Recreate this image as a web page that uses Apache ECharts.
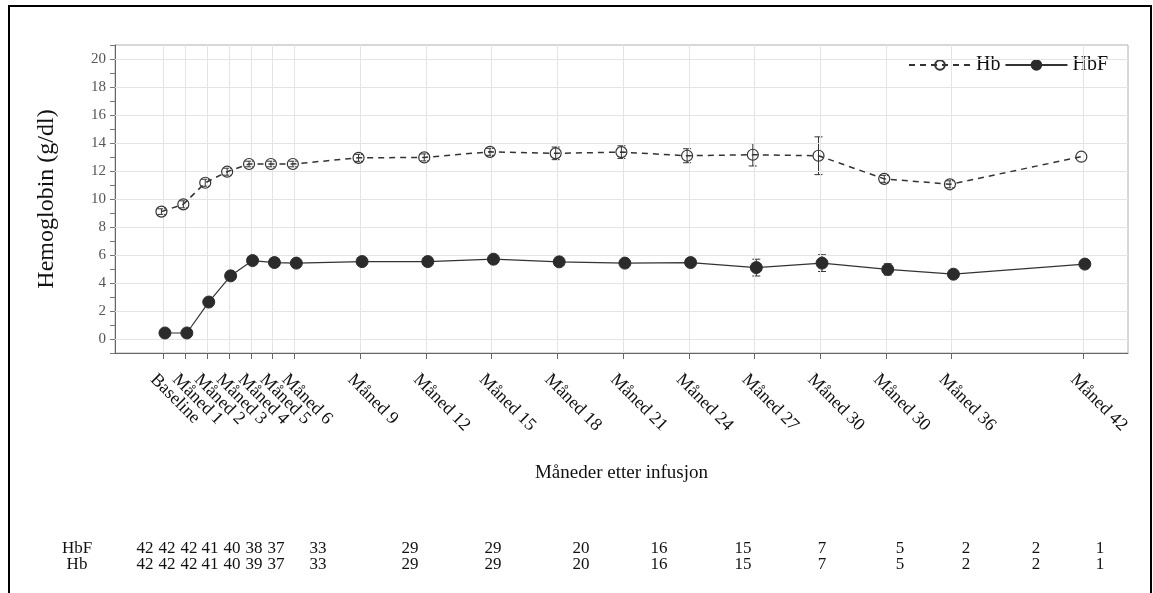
<!DOCTYPE html>
<html>
<head>
<meta charset="utf-8">
<script src="https://cdn.jsdelivr.net/npm/echarts@6/dist/echarts.min.js"></script>
<style>
html,body{margin:0;padding:0;background:#fff;}
#chart{width:1153px;height:593px;}
</style>
</head>
<body>
<div id="chart"></div>
<script>
// ---- data ----
const categories = ['Baseline','Måned 1','Måned 2','Måned 3','Måned 4','Måned 5','Måned 6','Måned 9','Måned 12','Måned 15','Måned 18','Måned 21','Måned 24','Måned 27','Måned 30','Måned 30','Måned 36','Måned 42'];
const months = [0,1,2,3,4,5,6,9,12,15,18,21,24,27,30,33,36,42];
const hbMean = [9.1,9.62,11.16,11.95,12.5,12.5,12.5,12.94,12.97,13.37,13.26,13.35,13.09,13.16,13.09,11.44,11.05,13.02];
const hbErr = [0.2,0.25,0.25,0.25,0.2,0.2,0.2,0.25,0.25,0.25,0.45,0.45,0.5,0.8,1.35,0.25,0.25,0];
const hbfMean = [0.43,0.43,2.64,4.51,5.6,5.46,5.42,5.53,5.53,5.7,5.51,5.42,5.46,5.1,5.42,4.97,4.63,5.35];
const hbfErr = [0.15,0.15,0.2,0.2,0.25,0.25,0.25,0.2,0.2,0.2,0.2,0.2,0.25,0.6,0.6,0.4,0.2,0];
const nHbF = [42,42,42,41,40,38,37,33,29,29,20,16,15,7,5,2,2,1];
const nHb = [42,42,42,41,40,39,37,33,29,29,20,16,15,7,5,2,2,1];
const yTicks = [0,2,4,6,8,10,12,14,16,18,20];
const seriesNames = ['Hb','HbF'];
const tableRowLabels = ['HbF','Hb'];
const xTitle = 'Måneder etter infusjon';
const yTitle = 'Hemoglobin (g/dl)';

// ---- layout (not data) ----
const FONT = "'Liberation Serif','Times New Roman',serif";
const Y_MIN = -1, Y_MAX = 21;
const tableColX = [145,167,189,210,232,254,276,318,410,493,581,659,743,822,900,966,1036,1100];
const tableRowY = [549,565];
const tableLabelX = 77;
const dodge = 0.08;
const labelDX = -10, labelDY = 24;

const chart = echarts.init(document.getElementById('chart'), null, {renderer:'canvas'});

function errRender(params, api){
  const x = api.value(0), lo = api.value(1), hi = api.value(2);
  if (hi - lo <= 0) return null;
  const p1 = api.coord([x, lo]), p2 = api.coord([x, hi]);
  const cw = 4;
  const st = {stroke:'#333', lineWidth:1};
  return {type:'group', children:[
    {type:'line', shape:{x1:p1[0],y1:p1[1],x2:p2[0],y2:p2[1]}, style:st},
    {type:'line', shape:{x1:p1[0]-cw,y1:p1[1],x2:p1[0]+cw,y2:p1[1]}, style:st},
    {type:'line', shape:{x1:p2[0]-cw,y1:p2[1],x2:p2[0]+cw,y2:p2[1]}, style:st}
  ]};
}

function xLabelRender(params, api){
  const p = api.coord([api.value(0), Y_MIN]);
  const idx = api.value(2);
  return {
    type:'text', x:p[0]+labelDX, y:p[1]+labelDY, rotation:-Math.PI/4,
    style:{text:categories[idx], font:'18px '+FONT, fill:'#111', align:'left', verticalAlign:'middle'}
  };
}

const graphics = [
  {type:'rect', shape:{x:9, y:6, width:1142, height:600}, style:{fill:'none', stroke:'#000', lineWidth:2}, z:-10}
];
tableRowLabels.forEach((lab, r) => {
  graphics.push({type:'text', x:tableLabelX, y:tableRowY[r], style:{text:lab, font:'17px '+FONT, fill:'#111', textAlign:'center', textVerticalAlign:'middle'}});
  const arr = r === 0 ? nHbF : nHb;
  arr.forEach((n, i) => {
    graphics.push({type:'text', x:tableColX[i], y:tableRowY[r], style:{text:String(n), font:'17px '+FONT, fill:'#111', textAlign:'center', textVerticalAlign:'middle'}});
  });
});

const option = {
  backgroundColor:'#fff',
  animation:false,
  textStyle:{fontFamily:FONT},
  grid:{left:115, right:25, top:45, bottom:240, show:true, borderColor:'#b0b0b0', borderWidth:1, backgroundColor:'transparent'},
  legend:{
    data:seriesNames, right:40, top:50, itemWidth:62, itemHeight:12, itemGap:4,
    textStyle:{fontFamily:FONT, fontSize:20, color:'#111'}
  },
  xAxis:{
    type:'value', min:-2.2, max:44.05,
    name:xTitle, nameLocation:'middle', nameGap:111,
    nameTextStyle:{fontFamily:FONT, fontSize:19, color:'#111'},
    axisLine:{show:true, onZero:false, lineStyle:{color:'#666', width:1}},
    axisTick:{show:true, customValues:months, length:6, lineStyle:{color:'#666'}},
    axisLabel:{show:false},
    splitLine:{show:false}
  },
  yAxis:{
    type:'value', min:Y_MIN, max:Y_MAX, interval:1,
    name:yTitle, nameLocation:'middle', nameGap:56, nameRotate:90,
    nameTextStyle:{fontFamily:FONT, fontSize:24, color:'#111'},
    axisLine:{show:true, onZero:false, lineStyle:{color:'#666', width:1}},
    axisTick:{show:true, length:5, lineStyle:{color:'#777'}},
    axisLabel:{
      fontFamily:FONT, fontSize:15, color:'#555', margin:9,
      formatter:(v)=> yTicks.indexOf(v) >= 0 ? String(v) : ''
    },
    splitLine:{show:false}
  },
  series:[
    {
      type:'line', name:'_grid', data:[], silent:true, z:0,
      markLine:{
        silent:true, symbol:['none','none'], label:{show:false}, animation:false,
        lineStyle:{color:'#e4e4e4', type:'solid', width:1},
        emphasis:{disabled:true},
        data: yTicks.map(v=>({yAxis:v})).concat(months.map(m=>({xAxis:m})))
      }
    },
    {
      type:'custom', name:'xLabels', renderItem:xLabelRender, silent:true, clip:false, z:2,
      data: months.map((m,i)=>[m, Y_MIN, i]),
      encode:{x:0, y:1}
    },
    {
      type:'custom', name:'HbErr', renderItem:errRender, z:3, silent:true,
      data: months.map((m,i)=>[m-dodge, hbMean[i]-hbErr[i], hbMean[i]+hbErr[i]]),
      encode:{x:0, y:[1,2]}
    },
    {
      type:'custom', name:'HbFErr', renderItem:errRender, z:3, silent:true,
      data: months.map((m,i)=>[m+dodge, hbfMean[i]-hbfErr[i], hbfMean[i]+hbfErr[i]]),
      encode:{x:0, y:[1,2]}
    },
    {
      type:'line', name:seriesNames[0], z:5,
      data: months.map((m,i)=>[m-dodge, hbMean[i]]),
      symbol:'circle', symbolSize:11, showAllSymbol:true,
      itemStyle:{color:'rgba(255,255,255,0)', borderColor:'#333', borderWidth:1.2},
      lineStyle:{color:'#333', width:1.5, type:[6,5]}
    },
    {
      type:'line', name:seriesNames[1], z:5,
      data: months.map((m,i)=>[m+dodge, hbfMean[i]]),
      symbol:'circle', symbolSize:12, showAllSymbol:true,
      itemStyle:{color:'#2b2b2b', borderColor:'#2b2b2b', borderWidth:1},
      lineStyle:{color:'#333', width:1.2, type:'solid'}
    }
  ],
  graphic: graphics
};
chart.setOption(option);
</script>
</body>
</html>
